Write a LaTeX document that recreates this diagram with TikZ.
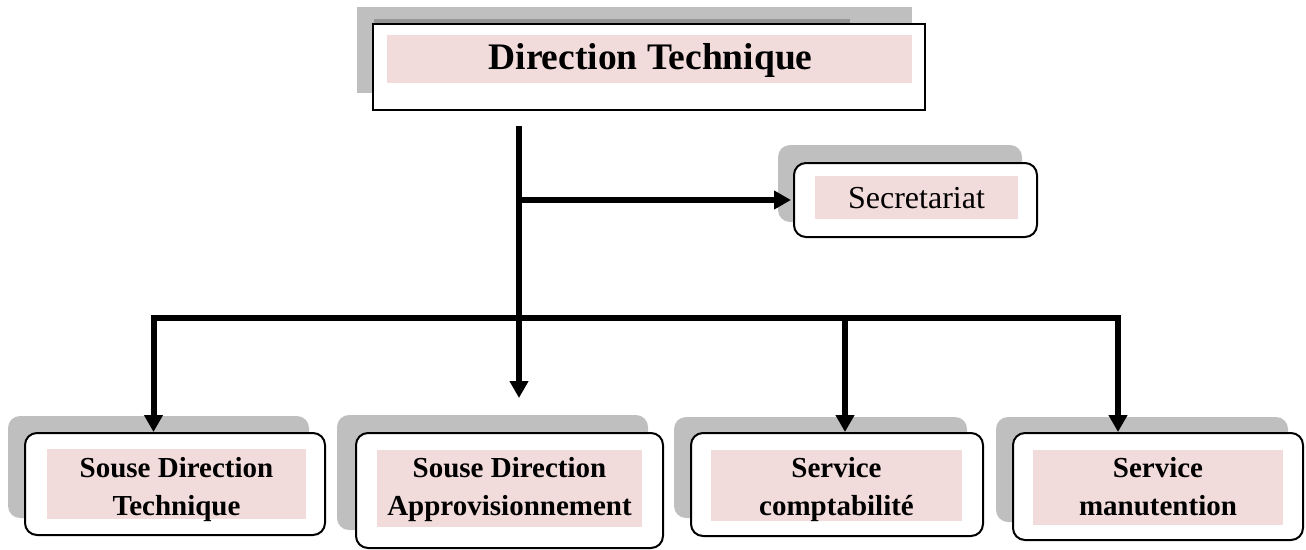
\documentclass[tikz,border=0pt]{standalone}
\usepackage{fontspec}
\setmainfont{Liberation Serif}
\usetikzlibrary{arrows.meta}
\definecolor{shadowgray}{HTML}{BFBFBF}
\definecolor{darkshade}{HTML}{969696}
\definecolor{pinkfill}{HTML}{F2DCDB}
\tikzset{
  whitebox/.style={draw=black, fill=white, line width=2pt, rounded corners=12pt, inner sep=0pt},
  topbox/.style={draw=black, fill=white, line width=1.5pt, inner sep=0pt},
  pinkbox/.style={fill=pinkfill, inner sep=0pt},
  label/.style={anchor=base, inner sep=0pt},
  bottomtext/.style={label, font=\fontsize{29}{38}\selectfont\bfseries},
  conn/.style={line width=6pt, -{Triangle[length=17pt,width=18pt]}},
  connline/.style={line width=6pt, miter limit=10},
}
\begin{document}
\begin{tikzpicture}[x=1pt,y=-1pt]
\useasboundingbox (0,0) rectangle (1306,549);
% ---- top box
\fill[shadowgray] (357,7) rectangle (912,93);
\fill[darkshade] (374,19) rectangle (850,24);
\node[topbox, minimum width=552pt, minimum height=86pt] (top) at (649,67) {};
\node[pinkbox, minimum width=525pt, minimum height=48pt] (topp) at (649.5,59) {};
\node[label, font=\fontsize{37.5}{44}\selectfont\bfseries] (toptext) at (650.5,69) {Direction Technique};
% ---- secretariat
\fill[shadowgray, rounded corners=12pt] (778,145) rectangle (1022,222);
\node[whitebox, minimum width=243pt, minimum height=74pt] (sec) at (915.5,200) {};
\node[pinkbox, minimum width=203pt, minimum height=43pt] (secp) at (916.5,197.5) {};
\node[label, font=\fontsize{32}{38}\selectfont] (sectext) at (916.5,208) {Secretariat};
% ---- box 1
\fill[shadowgray, rounded corners=12pt] (8,416) rectangle (309,518);
\node[whitebox, minimum width=300pt, minimum height=102pt] (b1) at (175,484) {};
\node[pinkbox, minimum width=259pt, minimum height=70pt] (b1p) at (176.5,484) {};
\node[bottomtext] (b1t1) at (176.5,477) {Souse Direction};
\node[bottomtext] (b1t2) at (176.5,515) {Technique};
% ---- box 2
\fill[shadowgray, rounded corners=12pt] (337,415) rectangle (648,530);
\node[whitebox, minimum width=307pt, minimum height=115pt] (b2) at (509.5,490.5) {};
\node[pinkbox, minimum width=265pt, minimum height=77pt] (b2p) at (509.5,488.5) {};
\node[bottomtext] (b2t1) at (509.5,477) {Souse Direction};
\node[bottomtext] (b2t2) at (509.5,515) {Approvisionnement};
% ---- box 3
\fill[shadowgray, rounded corners=12pt] (674,417) rectangle (967,518);
\node[whitebox, minimum width=292pt, minimum height=103pt] (b3) at (837,484.5) {};
\node[pinkbox, minimum width=251pt, minimum height=71pt] (b3p) at (836.5,485.5) {};
\node[bottomtext] (b3t1) at (836.5,477) {Service};
\node[bottomtext] (b3t2) at (836.5,515) {comptabilité};
% ---- box 4
\fill[shadowgray, rounded corners=12pt] (996,417) rectangle (1288,522);
\node[whitebox, minimum width=290pt, minimum height=107pt] (b4) at (1158,486.5) {};
\node[pinkbox, minimum width=250pt, minimum height=75pt] (b4p) at (1158,487.5) {};
\node[bottomtext] (b4t1) at (1158,477) {Service};
\node[bottomtext] (b4t2) at (1158,515) {manutention};
% ---- connectors
\coordinate (t0) at (519,126);
\coordinate (t1) at (519,398);
\coordinate (busL) at (153.5,318);
\coordinate (busR) at (1118,318);
\coordinate (bus3) at (845,318);
\draw[conn] (t0) -- (t1);
\draw[conn] (t0 |- sec.west) -- ([xshift=-2pt]sec.west);
\draw[connline, {Triangle[length=17pt,width=18pt]}-{Triangle[length=17pt,width=18pt]}] (busR |- b4.north) -- (busR) -- (busL) -- (busL |- b1.north);
\draw[conn] (bus3) -- (bus3 |- b3.north);
\end{tikzpicture}
\end{document}
